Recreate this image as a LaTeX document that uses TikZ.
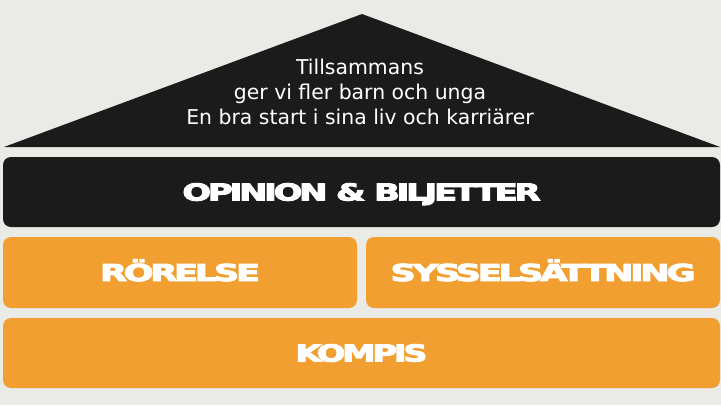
\documentclass[tikz,border=0pt]{standalone}
\usepackage{fontspec}
\usepackage{graphicx}
\setmainfont{DejaVu Sans}
\newfontfamily\heavyfont{DejaVu Sans}[FakeBold=4,LetterSpace=-9]
\definecolor{bgc}{RGB}{234,234,230}
\definecolor{darkc}{RGB}{27,27,27}
\definecolor{orangec}{RGB}{240,159,48}
\newcommand\heavylbl[2]{\resizebox{#1}{17pt}{\heavyfont\bfseries\raisebox{0pt}[\fontcharht\font`H][0pt]{#2}}}
\tikzset{
  layer/.style={rounded corners=8pt, inner sep=0pt, text=white},
  darklayer/.style={layer, fill=darkc},
  orangelayer/.style={layer, fill=orangec},
}
\begin{document}
\begin{tikzpicture}[x=1pt,y=-1pt]
\fill[bgc] (0,0) rectangle (721,405);
\useasboundingbox (0,0) rectangle (721,405);
% roof
\fill[darkc] (4,147) -- (362,14) -- (720,147) -- cycle;
\node[anchor=south, inner sep=0pt, text=white, align=center, font=\fontsize{20.4pt}{25pt}\selectfont] (roof) at (360,125)
  {Tillsammans\\ger vi fler barn och unga\\En bra start i sina liv och karriärer};
% layers
\node[darklayer, minimum width=717pt, minimum height=70pt] (opinion) at (361.5,192) {\heavylbl{358pt}{OPINION \& BILJETTER}};
\node[orangelayer, minimum width=354pt, minimum height=71pt] (rorelse) at (180,272.5) {\heavylbl{160pt}{RÖRELSE}};
\node[orangelayer, minimum width=354pt, minimum height=71pt] (syss) at (543,272.5) {\heavylbl{305pt}{SYSSELSÄTTNING}};
\node[orangelayer, minimum width=717pt, minimum height=70pt] (kompis) at (361.5,353) {\heavylbl{132pt}{KOMPIS}};
\end{tikzpicture}
\end{document}
